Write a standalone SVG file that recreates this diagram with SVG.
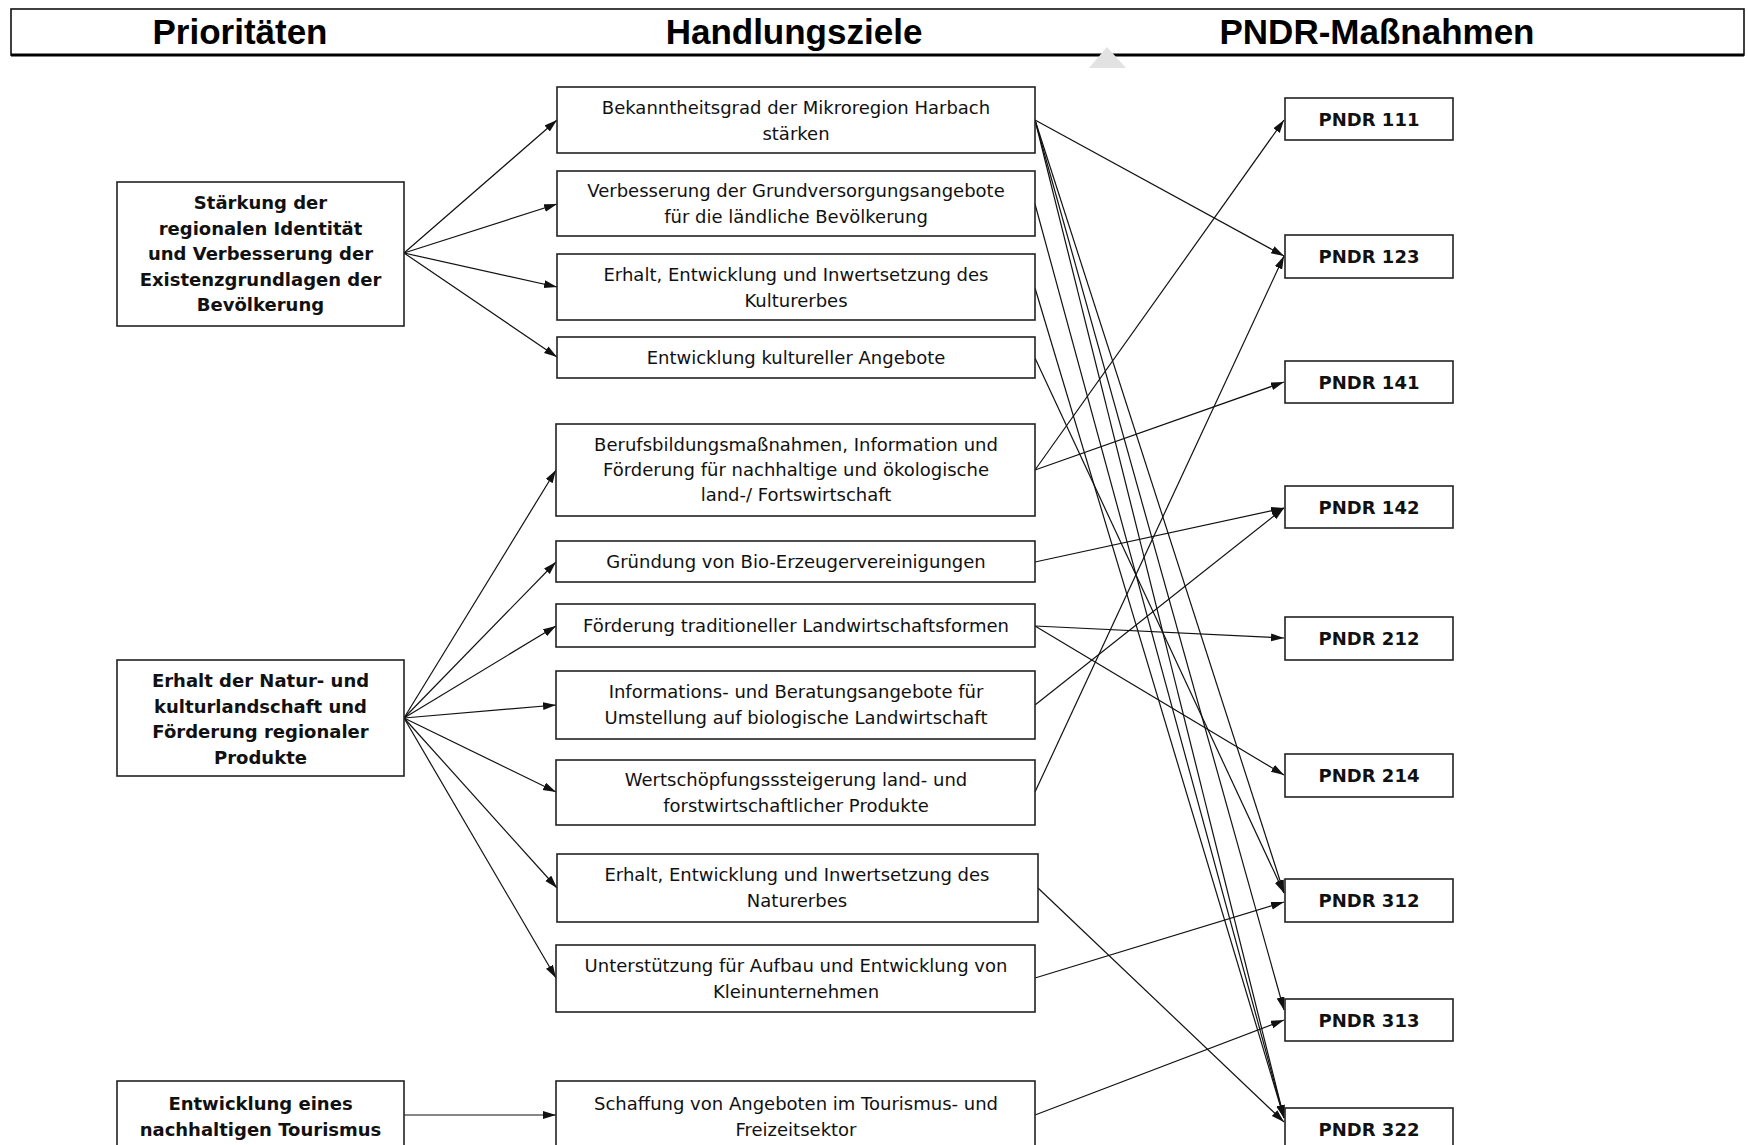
<svg xmlns="http://www.w3.org/2000/svg" width="1748" height="1145" viewBox="0 0 1748 1145">
<style>
.hdr{font-family:"Liberation Sans",Arial,sans-serif;font-weight:bold;font-size:35px;fill:#000;text-anchor:middle}
.box{fill:#fff;stroke:#222;stroke-width:1.6}
.t{font-family:"DejaVu Sans",Verdana,sans-serif;font-size:18px;fill:#111;text-anchor:middle}
.b{font-family:"DejaVu Sans",Verdana,sans-serif;font-size:18px;font-weight:bold;fill:#111;text-anchor:middle}
.c line{stroke:#111;stroke-width:1.2;marker-end:url(#ah)}
</style>
<defs>
<marker id="ah" markerUnits="userSpaceOnUse" markerWidth="14" markerHeight="10" refX="13" refY="4" orient="auto">
<path d="M0,0 L13,4 L0,8 z" fill="#111"/>
</marker>
</defs>
<rect width="1748" height="1145" fill="#fff"/>
<g id="header">
<rect x="11" y="9" width="1733" height="46" fill="#fff" stroke="#111" stroke-width="1.6"/>
<line x1="11" y1="55" x2="1744" y2="55" stroke="#000" stroke-width="3"/>
<text class="hdr" x="240" y="44">Prioritäten</text>
<text class="hdr" x="794" y="44">Handlungsziele</text>
<text class="hdr" x="1377" y="44">PNDR-Maßnahmen</text>
<polygon points="1107,47 1089,68 1126,68" fill="#e2e2e2"/>
</g>
<g class="c" id="connectors">
<line x1="404" y1="253" x2="557" y2="120"/>
<line x1="404" y1="253" x2="557" y2="204"/>
<line x1="404" y1="253" x2="557" y2="287"/>
<line x1="404" y1="253" x2="557" y2="357"/>
<line x1="404" y1="718" x2="556" y2="470"/>
<line x1="404" y1="718" x2="556" y2="562"/>
<line x1="404" y1="718" x2="556" y2="626"/>
<line x1="404" y1="718" x2="556" y2="705"/>
<line x1="404" y1="718" x2="556" y2="792"/>
<line x1="404" y1="718" x2="557" y2="888"/>
<line x1="404" y1="718" x2="556" y2="978"/>
<line x1="404" y1="1115" x2="556" y2="1115"/>
<line x1="1035" y1="120" x2="1284" y2="256"/>
<line x1="1035" y1="120" x2="1284" y2="893"/>
<line x1="1035" y1="120" x2="1284" y2="1010"/>
<line x1="1035" y1="120" x2="1284" y2="1118"/>
<line x1="1035" y1="204" x2="1284" y2="1118"/>
<line x1="1035" y1="288" x2="1284" y2="1118"/>
<line x1="1035" y1="358" x2="1284" y2="893"/>
<line x1="1035" y1="470" x2="1284" y2="120"/>
<line x1="1035" y1="470" x2="1284" y2="382"/>
<line x1="1035" y1="562" x2="1284" y2="508"/>
<line x1="1035" y1="626" x2="1284" y2="638"/>
<line x1="1035" y1="626" x2="1284" y2="775"/>
<line x1="1035" y1="705" x2="1284" y2="508"/>
<line x1="1035" y1="792" x2="1284" y2="256"/>
<line x1="1038" y1="888" x2="1284" y2="1122"/>
<line x1="1035" y1="978" x2="1284" y2="902"/>
<line x1="1035" y1="1115" x2="1284" y2="1020"/>
</g>
<g id="p1"><rect class="box" x="117" y="182" width="287" height="144"/>
<text class="b" x="260.5"><tspan x="260.5" y="209">Stärkung der</tspan><tspan x="260.5" y="234.5">regionalen Identität</tspan><tspan x="260.5" y="260">und Verbesserung der</tspan><tspan x="260.5" y="285.5">Existenzgrundlagen der</tspan><tspan x="260.5" y="311">Bevölkerung</tspan></text></g>
<g id="p2"><rect class="box" x="117" y="660" width="287" height="116"/>
<text class="b"><tspan x="260.5" y="687">Erhalt der Natur- und</tspan><tspan x="260.5" y="712.5">kulturlandschaft und</tspan><tspan x="260.5" y="738">Förderung regionaler</tspan><tspan x="260.5" y="763.5">Produkte</tspan></text></g>
<g id="p3"><rect class="box" x="117" y="1081" width="287" height="72"/>
<text class="b"><tspan x="260.5" y="1110">Entwicklung eines</tspan><tspan x="260.5" y="1135.5">nachhaltigen Tourismus</tspan></text></g>
<g id="h1"><rect class="box" x="557" y="87" width="478" height="66"/>
<text class="t"><tspan x="796" y="114">Bekanntheitsgrad der Mikroregion Harbach</tspan><tspan x="796" y="139.5">stärken</tspan></text></g>
<g id="h2"><rect class="box" x="557" y="171" width="478" height="65"/>
<text class="t"><tspan x="796" y="197">Verbesserung der Grundversorgungsangebote</tspan><tspan x="796" y="222.5">für die ländliche Bevölkerung</tspan></text></g>
<g id="h3"><rect class="box" x="557" y="254" width="478" height="66"/>
<text class="t"><tspan x="796" y="281">Erhalt, Entwicklung und Inwertsetzung des</tspan><tspan x="796" y="306.5">Kulturerbes</tspan></text></g>
<g id="h4"><rect class="box" x="557" y="337" width="478" height="41"/>
<text class="t" x="796" y="364">Entwicklung kultureller Angebote</text></g>
<g id="h5"><rect class="box" x="556" y="424" width="479" height="92"/>
<text class="t"><tspan x="796" y="451">Berufsbildungsmaßnahmen, Information und</tspan><tspan x="796" y="476">Förderung für nachhaltige und ökologische</tspan><tspan x="796" y="501">land-/ Fortswirtschaft</tspan></text></g>
<g id="h6"><rect class="box" x="556" y="541" width="479" height="41"/>
<text class="t" x="796" y="568">Gründung von Bio-Erzeugervereinigungen</text></g>
<g id="h7"><rect class="box" x="556" y="604" width="479" height="43"/>
<text class="t" x="796" y="632">Förderung traditioneller Landwirtschaftsformen</text></g>
<g id="h8"><rect class="box" x="556" y="671" width="479" height="68"/>
<text class="t"><tspan x="796" y="698">Informations- und Beratungsangebote für</tspan><tspan x="796" y="723.5">Umstellung auf biologische Landwirtschaft</tspan></text></g>
<g id="h9"><rect class="box" x="556" y="760" width="479" height="65"/>
<text class="t"><tspan x="796" y="786">Wertschöpfungsssteigerung land- und</tspan><tspan x="796" y="811.5">forstwirtschaftlicher Produkte</tspan></text></g>
<g id="h10"><rect class="box" x="557" y="854" width="481" height="68"/>
<text class="t"><tspan x="797" y="881">Erhalt, Entwicklung und Inwertsetzung des</tspan><tspan x="797" y="906.5">Naturerbes</tspan></text></g>
<g id="h11"><rect class="box" x="556" y="945" width="479" height="67"/>
<text class="t"><tspan x="796" y="972">Unterstützung für Aufbau und Entwicklung von</tspan><tspan x="796" y="997.5">Kleinunternehmen</tspan></text></g>
<g id="h12"><rect class="box" x="556" y="1081" width="479" height="72"/>
<text class="t"><tspan x="796" y="1110">Schaffung von Angeboten im Tourismus- und</tspan><tspan x="796" y="1135.5">Freizeitsektor</tspan></text></g>
<g id="m111"><rect class="box" x="1285" y="98" width="168" height="42"/><text class="b" x="1369" y="126">PNDR 111</text></g>
<g id="m123"><rect class="box" x="1285" y="235" width="168" height="43"/><text class="b" x="1369" y="263">PNDR 123</text></g>
<g id="m141"><rect class="box" x="1285" y="361" width="168" height="42"/><text class="b" x="1369" y="389">PNDR 141</text></g>
<g id="m142"><rect class="box" x="1285" y="486" width="168" height="42"/><text class="b" x="1369" y="514">PNDR 142</text></g>
<g id="m212"><rect class="box" x="1285" y="617" width="168" height="43"/><text class="b" x="1369" y="645">PNDR 212</text></g>
<g id="m214"><rect class="box" x="1285" y="754" width="168" height="43"/><text class="b" x="1369" y="782">PNDR 214</text></g>
<g id="m312"><rect class="box" x="1285" y="879" width="168" height="43"/><text class="b" x="1369" y="907">PNDR 312</text></g>
<g id="m313"><rect class="box" x="1285" y="999" width="168" height="42"/><text class="b" x="1369" y="1027">PNDR 313</text></g>
<g id="m322"><rect class="box" x="1285" y="1108" width="168" height="45"/><text class="b" x="1369" y="1136">PNDR 322</text></g>
</svg>
